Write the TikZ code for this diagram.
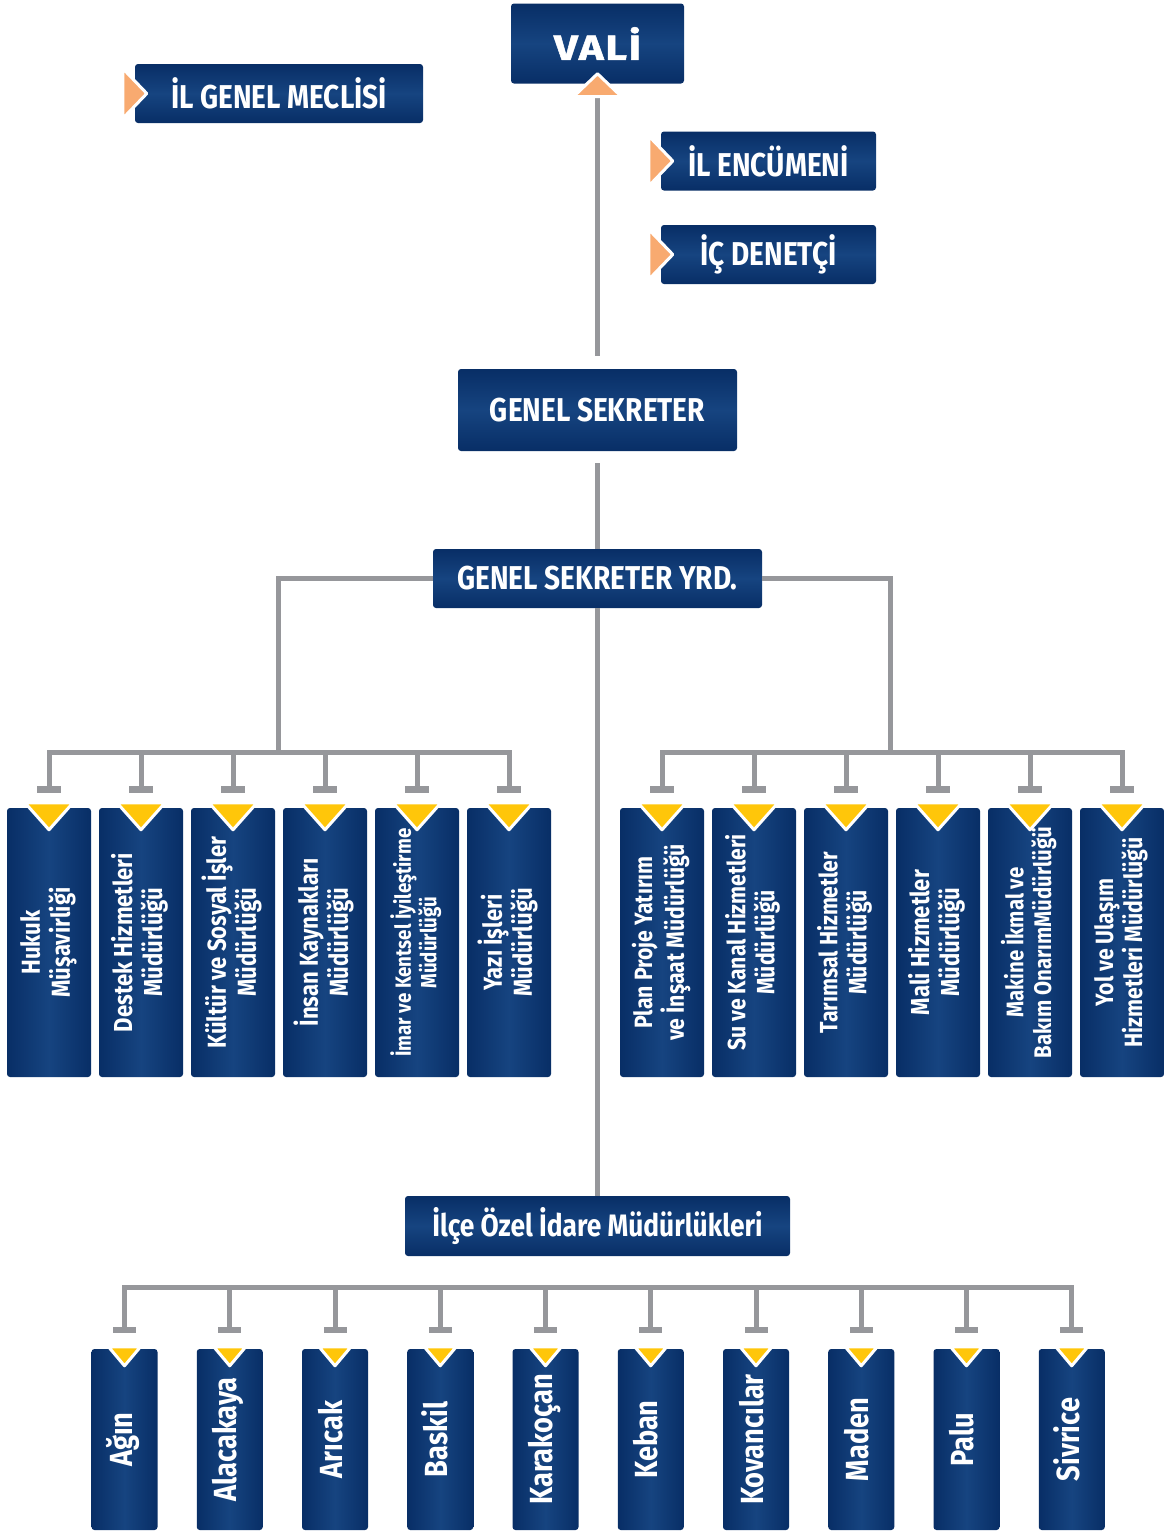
\documentclass[tikz,border=0pt]{standalone}
\usepackage{fontspec}
\usepackage{graphicx}
\newfontfamily\orgfont[FakeStretch=0.85]{Fira Sans}
\newfontfamily\valifont[FakeStretch=1.2, FakeBold=1.5, LetterSpace=5]{Fira Sans}
\definecolor{orgnavy}{RGB}{8,46,102}
\definecolor{orgnavylight}{RGB}{22,68,128}
\definecolor{orgyellow}{RGB}{255,198,10}
\definecolor{orgorange}{RGB}{248,170,112}
\definecolor{orggray}{RGB}{150,151,155}
\usetikzlibrary{arrows.meta, positioning, calc}
\newcommand\vtext[2]{\rotatebox{90}{\fontsize{#1pt}{\dimexpr#1pt+3pt\relax}\selectfont
  \begin{tabular}{@{}c@{}}#2\end{tabular}}}

\begin{document}
\begin{tikzpicture}[x=1pt, y=-1pt,
  hbox/.style={rounded corners=3pt, inner sep=0pt, text=white,
               top color=orgnavy, bottom color=orgnavy, middle color=orgnavylight,
               minimum height=59, font=\orgfont\bfseries\fontsize{33}{35}\selectfont},
  vbox/.style={rounded corners=3pt, inner sep=0pt, text=white,
               left color=orgnavy, right color=orgnavy, middle color=orgnavylight,
               minimum width=84, minimum height=269, font=\orgfont\bfseries},
  dbox/.style={vbox, minimum width=66, minimum height=181},
  link/.style={draw=orggray, line width=5pt},
  bus/.style={link, line cap=rect},
  drop/.style={link, -{Rectangle[length=7pt, width=24pt]}, shorten >=15pt},
  tri/.style={fill=orgyellow, draw=white, line width=3pt, line join=round},
  chev/.style={fill=orgorange, draw=white, line width=3pt, line join=round}
]
\useasboundingbox (0,0) rectangle (1164,1532);

% top level
\node[hbox, minimum width=173, minimum height=80,
      font=\valifont\bfseries\fontsize{35}{37}\selectfont] (vali) at (597.5,43.5) {VALİ};
\node[hbox, minimum width=288] (meclis) at (279,93.5) {İL GENEL MECLİSİ};
\node[hbox, minimum width=215] (encumen) at (768.5,161) {İL ENCÜMENİ};
\node[hbox, minimum width=215] (denetci) at (768.5,254.5) {İÇ DENETÇİ};
\node[hbox, minimum width=279, minimum height=82] (gs) at (597.5,410) {GENEL SEKRETER};
\node[hbox, minimum width=329] (yrd) at (597.5,578.5) {GENEL SEKRETER YRD.};
\node[hbox, minimum width=385, minimum height=60,
      font=\orgfont\bfseries\fontsize{31}{33}\selectfont] (ilce) at (597.5,1226)
  {İlçe Özel İdare Müdürlükleri};

\draw[link, shorten <=-2pt, shorten >=13pt] (vali.south) -- (gs.north);
\draw[link, shorten <=12pt] (gs.south) -- (yrd.north);
\draw[link] (yrd.south) -- (ilce.north);

\filldraw[chev] ($(vali.south)+(-24,13)$) -- ($(vali.south)+(24,13)$)
  -- ($(vali.south)+(0,-10)$) -- cycle;
\foreach \n in {meclis, encumen, denetci}
  \filldraw[chev] ($(\n.west)+(-12,-25)$) -- ($(\n.west)+(12,0)$)
    -- ($(\n.west)+(-12,25)$) -- cycle;

% directorates
\coordinate (lbus) at (278,752);
\coordinate (rbus) at (890,752);
\draw[link] (yrd.west) -| (lbus);
\draw[link] (yrd.east) -| (rbus);

\foreach \i/\x/\sz/\txt in {
  1/49/26/{Hukuk\\Müşavirliği},
  2/141/26/{Destek Hizmetleri\\Müdürlüğü},
  3/233/26/{Kültür ve Sosyal İşler\\Müdürlüğü},
  4/325/26/{İnsan Kaynakları\\Müdürlüğü},
  5/417/22/{İmar ve Kentsel İyileştirme\\Müdürlüğü},
  6/509/26/{Yazı İşleri\\Müdürlüğü}}
  \node[vbox] (l\i) at (\x,942.5) {\vtext{\sz}{\txt}};

\foreach \i/\x/\sz/\txt in {
  1/662/25/{Plan Proje Yatırım\\ve İnşaat Müdürlüğü},
  2/754/25/{Su ve Kanal Hizmetleri\\Müdürlüğü},
  3/846/25/{Tarımsal Hizmetler\\Müdürlüğü},
  4/938/26/{Mali Hizmetler\\Müdürlüğü},
  5/1030/24/{Makine İkmal ve\\Bakım OnarımMüdürlüğü},
  6/1122/25/{Yol ve Ulaşım\\Hizmetleri Müdürlüğü}}
  \node[vbox] (r\i) at (\x,942.5) {\vtext{\sz}{\txt}};

\draw[bus] (l1.north |- lbus) -- (l6.north |- lbus);
\draw[bus] (r1.north |- rbus) -- (r6.north |- rbus);
\foreach \s in {l, r}
  \foreach \i in {1,...,6} {
    \draw[drop] (\s\i.north |- lbus) -- (\s\i.north);
    \filldraw[tri] ($(\s\i.north)+(-24,-5)$) -- ($(\s\i.north)+(24,-5)$)
      -- ($(\s\i.north)+(0,22)$) -- cycle;
  }

% district offices
\coordinate (bbus) at (597,1287);
\foreach \t [count=\i] in {Ağın, Alacakaya, Arıcak, Baskil, Karakoçan,
                           Keban, Kovancılar, Maden, Palu, Sivrice}
  \node[dbox] (b\i) at ({19.25+105.25*\i},1439.5) {\vtext{32}{\t}};

\draw[bus] (b1.north |- bbus) -- (b10.north |- bbus);
\foreach \i in {1,...,10} {
  \draw[drop, -{Rectangle[length=6pt, width=23pt]}, shorten >=16pt]
    (b\i.north |- bbus) -- (b\i.north);
  \filldraw[tri] ($(b\i.north)+(-16,-2)$) -- ($(b\i.north)+(16,-2)$)
    -- ($(b\i.north)+(0,17)$) -- cycle;
}
\end{tikzpicture}
\end{document}
